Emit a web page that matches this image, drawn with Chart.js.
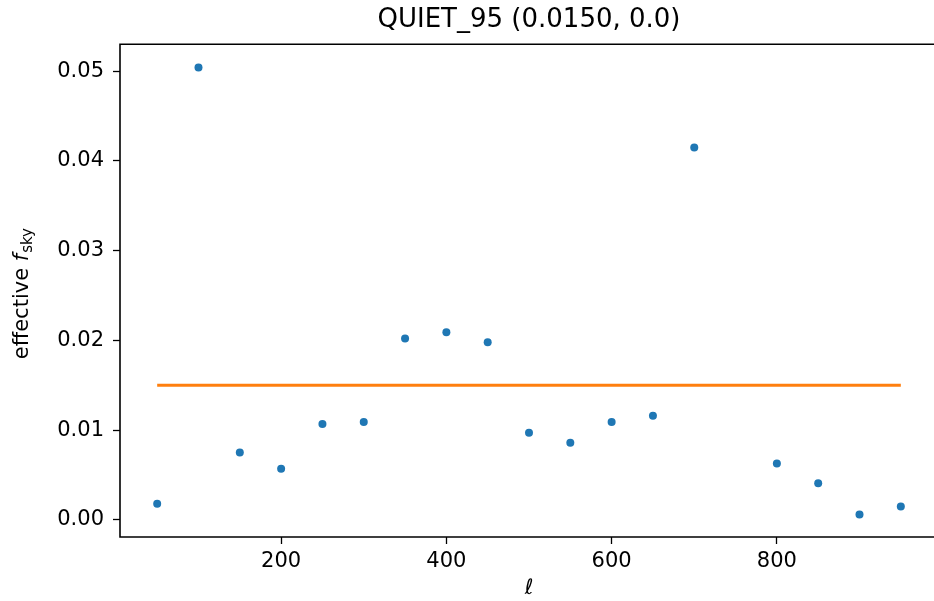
<!DOCTYPE html>
<html>
<head>
<meta charset="utf-8">
<script src="https://cdn.jsdelivr.net/npm/chart.js@4/dist/chart.umd.min.js"></script>
<style>
  html, body { margin: 0; padding: 0; background: #fff; overflow: hidden; }
  #wrap { width: 942px; height: 601px; }
</style>
</head>
<body>
<div id="wrap"><canvas id="myChart"></canvas></div>
<script>
// multipole bins (750 has no value)
var ells = [50, 100, 150, 200, 250, 300, 350, 400, 450, 500, 550, 600, 650, 700, 800, 850, 900, 950];
var fsky = [0.0018, 0.0504, 0.0075, 0.0057, 0.0107, 0.0109, 0.0202, 0.0209, 0.0198, 0.0097, 0.0086, 0.0109, 0.0116, 0.0415, 0.0063, 0.0041, 0.0006, 0.0015];
// nominal value line
var lineEll = [50, 950];
var lineFsky = [0.015, 0.015];
var xTicks = [200, 400, 600, 800];
var yTicks = [0.00, 0.01, 0.02, 0.03, 0.04, 0.05];
var titulo = 'QUIET_95 (0.0150, 0.0)';

var font = "'DejaVu Sans', sans-serif";

function puntos(xs, ys) {
    var out = [];
    for (var i = 0; i < xs.length; i++) {
        out.push({x: xs[i], y: ys[i]});
    }
    return out;
}

// left/top/bottom spines + y label with subscript
var marco = {
    id: 'marco',
    afterDraw: function(chart) {
        var a = chart.chartArea;
        var ctx = chart.ctx;
        ctx.save();
        ctx.strokeStyle = '#000';
        ctx.lineWidth = 1.6;
        ctx.beginPath();
        ctx.moveTo(a.right + 2, a.top);
        ctx.lineTo(a.left, a.top);
        ctx.lineTo(a.left, a.bottom);
        ctx.lineTo(a.right + 2, a.bottom);
        ctx.stroke();

        ctx.translate(23, (a.top + a.bottom) / 2 + 3);
        ctx.rotate(-Math.PI / 2);
        ctx.fillStyle = '#000';
        ctx.textBaseline = 'middle';
        var f1 = "21px " + font, f2 = "italic 21px " + font, f3 = "15px " + font;
        ctx.font = f1; var w1 = ctx.measureText('effective ').width;
        ctx.font = f2; var w2 = ctx.measureText('f').width + 1;
        ctx.font = f3; var w3 = ctx.measureText('sky').width;
        var x0 = -(w1 + w2 + w3) / 2;
        ctx.font = f1; ctx.fillText('effective ', x0, 0);
        ctx.font = f2; ctx.fillText('f', x0 + w1, 0);
        ctx.font = f3; ctx.fillText('sky', x0 + w1 + w2, 5);
        ctx.restore();
    }
};

function creargraf() {
    var ctx = document.getElementById('myChart').getContext('2d');
    new Chart(ctx, {
        type: 'scatter',
        data: {
            datasets: [{
                data: puntos(ells, fsky),
                backgroundColor: '#1f77b4',
                borderColor: '#1f77b4',
                pointRadius: 4,
                pointBorderWidth: 0,
                showLine: false
            }, {
                data: puntos(lineEll, lineFsky),
                borderColor: '#ff7f0e',
                borderWidth: 3,
                pointRadius: 0,
                showLine: true
            }]
        },
        options: {
            responsive: true,
            maintainAspectRatio: false,
            animation: false,
            layout: { padding: { left: 0, right: 4, top: 0, bottom: 0 } },
            plugins: {
                legend: { display: false },
                tooltip: { enabled: false },
                title: {
                    display: true,
                    text: titulo,
                    fullSize: false,
                    color: '#000',
                    font: { family: font, size: 26, weight: 'normal', lineHeight: 1.2 },
                    padding: { top: 5, bottom: 8 }
                }
            },
            scales: {
                x: {
                    type: 'linear',
                    min: 5,
                    max: 995,
                    afterBuildTicks: function(s) { s.ticks = xTicks.map(function(v) { return {value: v}; }); },
                    afterFit: function(s) { s.height = 64; },
                    grid: { drawOnChartArea: false, tickLength: 7, tickColor: '#000', tickWidth: 1.3 },
                    border: { display: false },
                    ticks: { color: '#000', padding: 5, font: { family: font, size: 21 }, maxRotation: 0 },
                    title: {
                        display: true,
                        text: 'ℓ',
                        color: '#000',
                        font: { family: font, size: 21, style: 'italic' },
                        padding: { top: 2, bottom: 0 }
                    }
                },
                y: {
                    type: 'linear',
                    min: -0.0019,
                    max: 0.0530,
                    afterBuildTicks: function(s) { s.ticks = yTicks.map(function(v) { return {value: v}; }); },
                    afterFit: function(s) { s.width = 120; },
                    grid: { drawOnChartArea: false, tickLength: 7, tickColor: '#000', tickWidth: 1.3 },
                    border: { display: false },
                    ticks: {
                        color: '#000', padding: 9, font: { family: font, size: 21 },
                        callback: function(v) { return Number(v).toFixed(2); }
                    }
                }
            }
        },
        plugins: [marco]
    });
}

window.onload = function() {
    creargraf();
};
</script>
</body>
</html>
